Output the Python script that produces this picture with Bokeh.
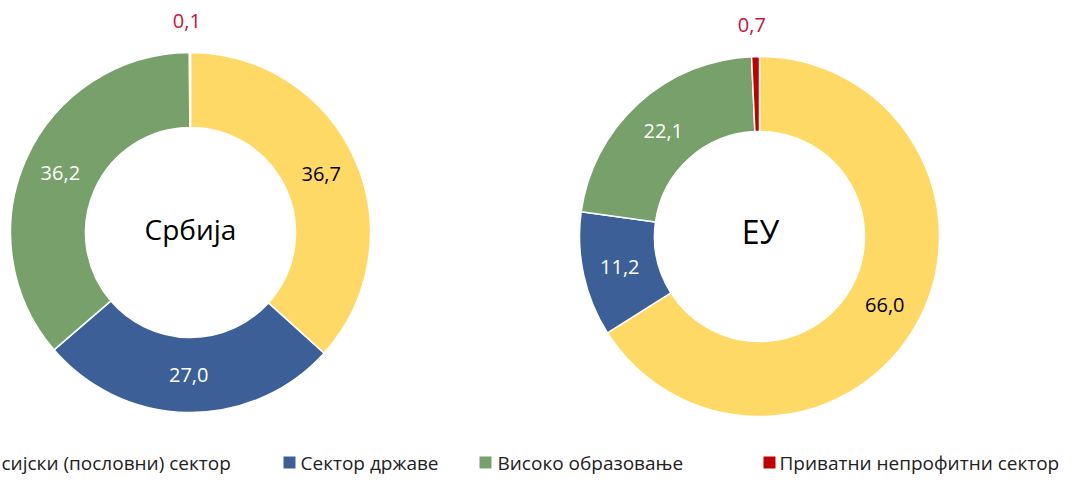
import numpy as np
from bokeh.plotting import figure
from bokeh.models import Range1d, ColumnDataSource
from bokeh.core.properties import value
from bokeh.embed import file_html
from bokeh.resources import INLINE

# ---- data ----
categories = ["Пословни сектор", "Сектор државе", "Високо образовање", "Приватни непрофитни сектор"]
legend_labels = ["сијски  (пословни)  сектор", "Сектор државе", "Високо образовање", "Приватни непрофитни  сектор"]
serbia_values = [36.7, 27.0, 36.2, 0.1]
eu_values = [66.0, 11.2, 22.1, 0.7]
serbia_labels = ["36,7", "27,0", "36,2", "0,1"]
eu_labels = ["66,0", "11,2", "22,1", "0,7"]
titles = ["Србија", "ЕУ"]

colors = ["#FFD966", "#3C5F97", "#77A06A", "#C00000"]
label_colors = ["black", "white", "white", "#C8143C"]

W, H = 1066, 477

def fx(px):
    return px

def fy(py):
    return H - py

p = figure(width=W, height=H, output_backend="svg", toolbar_location=None,
           x_range=Range1d(0, W), y_range=Range1d(0, H), min_border=0)
p.axis.visible = False
p.grid.visible = False
p.outline_line_color = None
p.background_fill_color = "white"
p.border_fill_color = "white"

FONT = value("Open Sans")

def donut(cx, cy, vals, labels, title, title_size, title_pos):
    vals = np.array(vals, dtype=float)
    frac = vals / vals.sum()
    cum = np.concatenate([[0], np.cumsum(frac)])
    start = np.pi / 2 - 2 * np.pi * cum[:-1]
    end = np.pi / 2 - 2 * np.pi * cum[1:]
    src = ColumnDataSource(dict(start=start, end=end, color=colors))
    p.annular_wedge(x=fx(cx), y=fy(cy), inner_radius=105, outer_radius=180,
                    start_angle="start", end_angle="end", direction="clock",
                    fill_color="color", line_color="white", line_width=1.5,
                    source=src)
    mid = (cum[:-1] + cum[1:]) / 2 * 2 * np.pi
    small = frac < 0.02
    r = np.where(small, 212, 143)
    lx = fx(cx) + r * np.sin(mid) - np.where(small, 3, 0)
    ly = fy(cy) + r * np.cos(mid)
    lsrc = ColumnDataSource(dict(x=lx, y=ly, t=labels, c=label_colors))
    p.text(x="x", y="y", text="t", text_color="c", source=lsrc,
           text_align="center", text_baseline="middle",
           text_font=FONT, text_font_size="20px")
    p.text(x=[fx(title_pos[0])], y=[fy(title_pos[1])], text=[title],
           text_align="center", text_baseline="middle", text_color="black",
           text_font=FONT, text_font_size=title_size)

donut(190, 232, serbia_values, serbia_labels, titles[0], "28px", (190, 228))
donut(759, 236, eu_values, eu_labels, titles[1], "32px", (760, 231))

# ---- legend ----
sq_x = [283, 479, 763]
txt_x = [300, 497, 779]
leg_y = fy(462)
p.rect(x=[fx(x + 6) for x in sq_x], y=[leg_y] * 3, width=12, height=12,
       fill_color=colors[1:], line_color=None)
p.text(x=[fx(x) for x in txt_x], y=[leg_y] * 3, text=legend_labels[1:],
       text_align="left", text_baseline="middle", text_color="#222222",
       text_font=FONT, text_font_size="19px")
p.text(x=[fx(1)], y=[leg_y], text=[legend_labels[0]],
       text_align="left", text_baseline="middle", text_color="#222222",
       text_font=FONT, text_font_size="19px")

open("out.html", "w").write(file_html(p, INLINE))
